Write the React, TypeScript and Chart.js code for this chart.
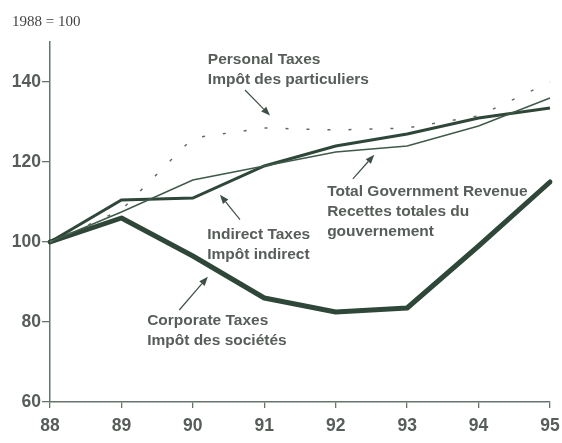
import React, { useEffect, useRef } from 'react';
import { Chart, registerables } from 'chart.js';

Chart.register(...registerables);

const years = ['88', '89', '90', '91', '92', '93', '94', '95'];
const personalTaxes = [100, 108, 126, 128.5, 128, 128.5, 131.5, 140];
const totalRevenue = [100, 107.5, 115.5, 119, 122.5, 124, 129, 136];
const indirectTaxes = [100, 110.5, 111, 119, 124, 127, 131, 133.5];
const corporateTaxes = [100, 106, 96.5, 86, 82.5, 83.5, 99, 115];
const yTicks = [60, 80, 100, 120, 140];
const baseNote = '1988 = 100';

// annotation labels: anchor in data units (category index, value)
const labelPersonal = ['Personal Taxes', 'Impôt des particuliers'];
const labelTotal = ['Total Government Revenue', 'Recettes totales du', 'gouvernement'];
const labelIndirect = ['Indirect Taxes', 'Impôt indirect'];
const labelCorporate = ['Corporate Taxes', 'Impôt des sociétés'];

const annotations = [
  { x: 2.21, y: 145.5, lines: labelPersonal },
  { x: 3.88, y: 112.5, lines: labelTotal },
  { x: 2.2, y: 101.8, lines: labelIndirect },
  { x: 1.36, y: 80.3, lines: labelCorporate },
];

const arrows = [
  { x1: 2.73, y1: 138.0, x2: 3.08, y2: 131.6 },
  { x1: 4.24, y1: 115.8, x2: 4.54, y2: 121.8 },
  { x1: 2.66, y1: 105.6, x2: 2.38, y2: 111.8 },
  { x1: 1.81, y1: 83.0, x2: 2.21, y2: 91.3 },
];

const LINE = '#2e4738';
const AXIS = '#66766d';
const TEXT = '#575d59';

const annotationPlugin = {
  id: 'annotationPlugin',
  afterDraw(chart: any) {
    const { ctx, chartArea } = chart;
    const xs = chart.scales.x;
    const ys = chart.scales.y;
    ctx.save();
    ctx.fillStyle = '#444';
    ctx.font = '15px "Liberation Serif", "Times New Roman", serif';
    ctx.textAlign = 'left';
    ctx.textBaseline = 'middle';
    ctx.fillText(baseNote, chartArea.left - 38, chartArea.top - 20);

    ctx.fillStyle = TEXT;
    ctx.font = 'bold 15.5px "Liberation Sans", Arial, sans-serif';
    annotations.forEach((a) => {
      const px = xs.getPixelForValue(a.x);
      const py = ys.getPixelForValue(a.y);
      a.lines.forEach((t, i) => ctx.fillText(t, px, py + i * 20));
    });

    ctx.strokeStyle = '#3e4f45';
    ctx.fillStyle = '#3e4f45';
    ctx.lineWidth = 1.2;
    arrows.forEach((a) => {
      const x1 = xs.getPixelForValue(a.x1);
      const y1 = ys.getPixelForValue(a.y1);
      const x2 = xs.getPixelForValue(a.x2);
      const y2 = ys.getPixelForValue(a.y2);
      const ang = Math.atan2(y2 - y1, x2 - x1);
      const hl = 9;
      const hw = 3.5;
      const bx = x2 - hl * Math.cos(ang);
      const by = y2 - hl * Math.sin(ang);
      ctx.beginPath();
      ctx.moveTo(x1, y1);
      ctx.lineTo(bx, by);
      ctx.stroke();
      ctx.beginPath();
      ctx.moveTo(x2, y2);
      ctx.lineTo(bx + hw * Math.sin(ang), by - hw * Math.cos(ang));
      ctx.lineTo(bx - hw * Math.sin(ang), by + hw * Math.cos(ang));
      ctx.closePath();
      ctx.fill();
    });
    ctx.restore();
  },
};

export default function App() {
  const ref = useRef<HTMLCanvasElement | null>(null);

  useEffect(() => {
    if (!ref.current) return;
    const tickFont = { family: '"Liberation Sans", Arial, sans-serif', size: 17.5, weight: 'bold' as const };
    const chart = new Chart(ref.current, {
      type: 'line',
      data: {
        labels: years,
        datasets: [
          {
            label: 'Personal Taxes',
            data: personalTaxes,
            borderColor: '#5d6d63',
            borderWidth: 1.5,
            borderDash: [3, 18],
            pointRadius: 0,
            tension: 0,
            fill: false,
          },
          {
            label: 'Total Government Revenue',
            data: totalRevenue,
            borderColor: '#3f5a49',
            borderWidth: 1.4,
            pointRadius: 0,
            tension: 0,
            fill: false,
          },
          {
            label: 'Indirect Taxes',
            data: indirectTaxes,
            borderColor: LINE,
            borderWidth: 3,
            pointRadius: 0,
            tension: 0,
            fill: false,
          },
          {
            label: 'Corporate Taxes',
            data: corporateTaxes,
            borderColor: LINE,
            borderWidth: 5,
            borderCapStyle: 'round',
            borderJoinStyle: 'round',
            pointRadius: 0,
            tension: 0,
            fill: false,
          },
        ],
      },
      options: {
        animation: false,
        responsive: false,
        layout: { padding: { top: 42, right: 12, left: 0, bottom: 0 } },
        plugins: { legend: { display: false }, tooltip: { enabled: false } },
        scales: {
          x: {
            offset: false,
            grid: { drawOnChartArea: false, drawTicks: true, tickLength: 6, color: AXIS, lineWidth: 1.3 },
            border: { color: AXIS, width: 1.5 },
            ticks: { color: TEXT, font: tickFont, padding: 8, maxRotation: 0, autoSkip: false },
            afterFit: (axis: any) => {
              axis.height = 41;
              axis.paddingRight = 0;
              axis.paddingLeft = 0;
            },
          },
          y: {
            min: 60,
            max: 150,
            grid: { drawOnChartArea: false, drawTicks: true, tickLength: 8, color: AXIS, lineWidth: 1.3 },
            border: { color: AXIS, width: 1.5 },
            ticks: { color: TEXT, font: tickFont, padding: 1 },
            afterBuildTicks: (axis: any) => {
              axis.ticks = yTicks.map((v) => ({ value: v }));
            },
            afterFit: (axis: any) => {
              axis.width = 50;
              axis.paddingTop = 0;
              axis.paddingBottom = 0;
            },
          },
        },
      },
      plugins: [annotationPlugin],
    });
    return () => chart.destroy();
  }, []);

  return (
    <div style={{ position: 'absolute', left: 0, top: 0, width: 562, height: 443, background: '#fff' }}>
      <canvas ref={ref} width={562} height={443} style={{ display: 'block', width: 562, height: 443 }} />
    </div>
  );
}
